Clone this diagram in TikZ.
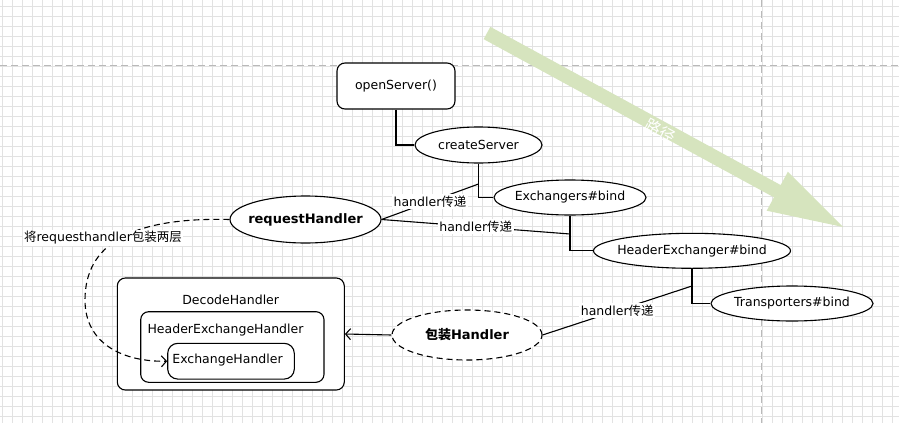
\documentclass[tikz,border=0pt]{standalone}
\usepackage{fontspec}
\setmainfont{DejaVu Sans}
\newfontfamily\cjk{Noto Sans CJK SC}
\usetikzlibrary{shapes.geometric,arrows.meta}
\definecolor{arrowgreen}{RGB}{214,228,190}
\definecolor{gridc}{RGB}{226,226,226}
\definecolor{pagec}{RGB}{185,185,185}
\begin{document}
\begin{tikzpicture}[x=1pt,y=-1pt,
  txt/.style={font=\fontsize{12.5}{15}\selectfont, inner sep=0pt},
  btxt/.style={font=\fontsize{13}{15}\selectfont\bfseries, inner sep=0pt},
  ell/.style={draw, ellipse, fill=white, line width=1.1pt, inner sep=0pt},
  rbox/.style={draw, fill=white, rounded corners=8pt, line width=1.1pt, inner sep=0pt},
  conn/.style={line width=1.1pt},
  lbl/.style={txt, fill=white, inner sep=1.5pt},
  dsh/.style={dash pattern=on 6pt off 4pt}
]
\useasboundingbox (0,0) rectangle (899,423);
\fill[white] (0,0) rectangle (899,423);
% grid
\foreach \gx in {2.5,12.5,...,899} \draw[gridc, line width=0.8pt] (\gx,0) -- (\gx,423);
\foreach \gy in {6,16,...,423} \draw[gridc, line width=0.8pt] (0,\gy) -- (899,\gy);
% page break lines
\draw[pagec, line width=1pt, dash pattern=on 7pt off 4pt] (0,65.5) -- (899,65.5);
\draw[pagec, line width=1pt, dash pattern=on 7pt off 4pt] (761,0) -- (761,423);
% big green arrow
\fill[arrowgreen] (490.35,26.85) -- (780.65,185.05) -- (787.9,171.7) -- (843,227)
  -- (766.7,210.7) -- (773.95,197.35) -- (483.65,39.15) -- cycle;
\node[inner sep=0pt, text=white, rotate=-28.6, font=\fontsize{16}{18}\selectfont\cjk] (lujing) at (660,131) {路径};

% nodes (shapes)
\node[rbox, minimum width=118, minimum height=46] (open) at (396,86) {};
\node[ell, minimum width=127, minimum height=36] (cs) at (478.5,145) {};
\node[ell, minimum width=152, minimum height=35] (exb) at (570,197.5) {};
\node[ell, minimum width=197, minimum height=35] (hx) at (692,250.8) {};
\node[ell, minimum width=162, minimum height=35] (tb) at (792,303.5) {};
\node[ell, minimum width=151, minimum height=47] (rh) at (305.5,219.5) {};
\node[ell, dsh, minimum width=150, minimum height=50] (pk) at (467,335) {};
\node[rbox, minimum width=227, minimum height=112] (dh) at (230.8,334) {};
\node[rbox, minimum width=183.3, minimum height=70.6] (hh) at (232.35,347) {};
\node[rbox, rounded corners=10pt, minimum width=126.6, minimum height=35.7] (eh) at (231,361.2) {};

% orthogonal connectors
\draw[conn] (open.south) |- (cs.west);
\draw[conn] (cs.south) |- (exb.west);
\draw[conn] (exb.south) |- (hx.west);
\draw[conn] (hx.south) |- (tb.west);
\coordinate (c1) at (478.5,184);
\coordinate (c2) at (570,234);
\coordinate (c3) at (692,286);
% labelled connectors
\draw[conn] (c1) -- node[lbl] (l1) {handler{\cjk 传递}} (rh.east);
\draw[conn] (c2) -- node[lbl] (l2) {handler{\cjk 传递}} (rh.east);
\draw[conn] (c3) -- node[lbl] (l3) {handler{\cjk 传递}} (pk.east);
% arrow into DecodeHandler
\draw[conn, -{Straight Barb[length=5pt,width=11pt]}] (pk.west) -- (dh.east);
% dashed curve
\draw[conn, dsh, -{Straight Barb[length=5pt,width=11pt]}] (rh.west)
  .. controls (130,217) and (85,245) .. (85,300)
  .. controls (85,345) and (125,362) .. (eh.west);
\node[lbl] (l4) at (103,238) {{\cjk 将}requesthandler{\cjk 包装两层}};

% texts
\node[txt] (topen) at (396,86) {openServer()};
\node[txt] (tcs) at (cs) {createServer};
\node[txt] (texb) at (exb) {Exchangers\#bind};
\node[txt] (thx) at (hx) {HeaderExchanger\#bind};
\node[txt] (ttb) at (tb) {Transporters\#bind};
\node[btxt] (trh) at (rh) {requestHandler};
\node[btxt] (tpk) at (pk) {{\cjk\bfseries 包装}Handler};
\node[txt] (tdh) at (230.7,299.5) {DecodeHandler};
\node[txt] (thh) at (225.5,330) {HeaderExchangeHandler};
\node[txt] (teh) at (227.5,360.5) {ExchangeHandler};
\end{tikzpicture}
\end{document}
